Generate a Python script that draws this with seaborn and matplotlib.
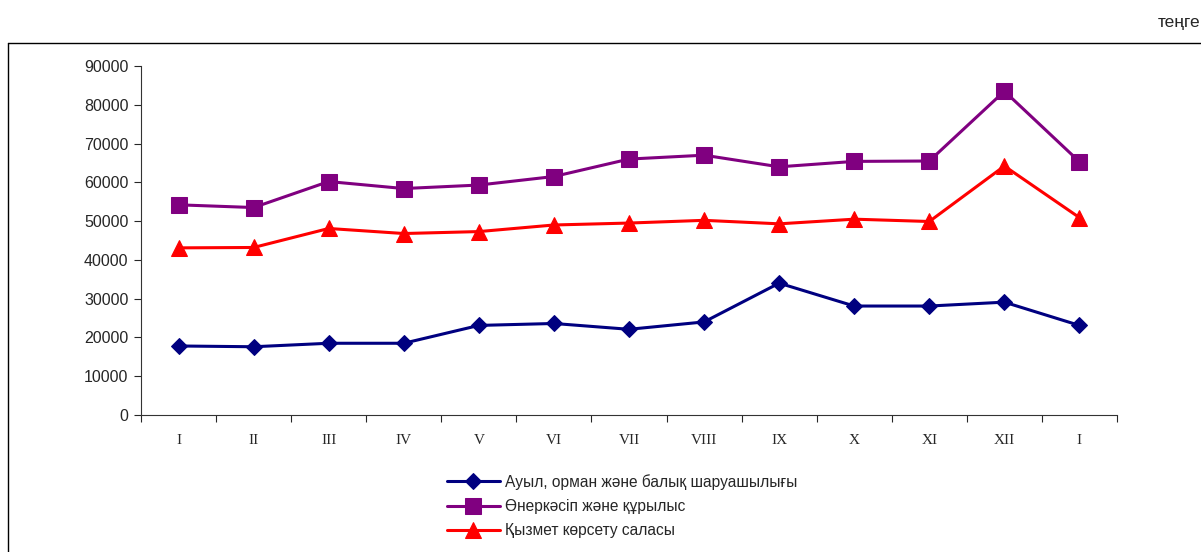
import numpy as np
import pandas as pd
import matplotlib
matplotlib.use("Agg")
import matplotlib.pyplot as plt
from matplotlib.lines import Line2D
import seaborn as sns

# data (monthly values, теңге)
months = ["I", "II", "III", "IV", "V", "VI", "VII", "VIII", "IX", "X", "XI", "XII", "I"]
agri = [17800, 17600, 18500, 18500, 23100, 23600, 22100, 24000, 34000, 28100, 28100, 29100, 23100]
industry = [54200, 53500, 60200, 58400, 59300, 61500, 66000, 67000, 64000, 65400, 65500, 83500, 65300]
services = [43100, 43200, 48100, 46800, 47300, 49000, 49500, 50200, 49300, 50500, 49900, 64200, 50900]

names = ["Ауыл, орман және балық шаруашылығы",
         "Өнеркәсіп және құрылыс",
         "Қызмет көрсету саласы"]
colors = ["#000080", "#800080", "#FF0000"]
markers = ["D", "s", "^"]
msizes = [8.5, 11, 11]

sns.set_style("ticks")
plt.rcParams['font.family'] = ['Liberation Sans', 'DejaVu Sans']

pos = np.arange(len(months))
df = pd.DataFrame({"pos": np.tile(pos, 3),
                   "value": agri + industry + services,
                   "series": np.repeat(names, len(months))})

fig = plt.figure(figsize=(12.01, 5.52), dpi=100)
ax = fig.add_axes([141/1201, 137/552, 976/1201, 349/552])

for name, c, m, ms in zip(names, colors, markers, msizes):
    sns.lineplot(data=df[df.series == name], x="pos", y="value", ax=ax,
                 color=c, marker=m, markersize=ms, markeredgecolor=c,
                 linewidth=2.2, label=name)

ax.set_xlim(-0.5, len(months) - 0.5)
ax.set_ylim(0, 90000)
ax.set_yticks(np.arange(0, 90001, 10000))
ax.set_yticklabels([str(v) for v in range(0, 90001, 10000)], fontsize=11.5)
ax.set_xticks(pos)
ax.set_xticklabels(months, fontfamily="Liberation Serif", fontsize=11)
ax.set_xticks(np.arange(-0.5, len(months)), minor=True)
ax.tick_params(axis="x", which="major", length=0, pad=14)
ax.tick_params(axis="x", which="minor", length=5, width=0.8, direction="out")
ax.tick_params(axis="y", length=5, width=0.8, direction="out", pad=4)
ax.set_xlabel("")
ax.set_ylabel("")
sns.despine(ax=ax, top=True, right=True)
for s in ["left", "bottom"]:
    ax.spines[s].set_linewidth(0.8)
    ax.spines[s].set_color("#333333")

ax.legend(loc="upper left", bbox_to_anchor=(433/1201, 1 - 460/552),
          bbox_transform=fig.transFigure, frameon=False, fontsize=11.2,
          handlelength=3.4, labelspacing=0.6, handletextpad=0.35)

# outer chart frame (cut off at right/bottom)
fig.add_artist(Line2D([8/1201, 1], [1 - 43/552, 1 - 43/552], color="black", lw=1))
fig.add_artist(Line2D([8/1201, 8/1201], [0, 1 - 43/552], color="black", lw=1))
fig.text(1200/1201, 1 - 22/552, "теңге", ha="right", va="center", fontsize=12.5)

fig.savefig("out.png", dpi=100)
